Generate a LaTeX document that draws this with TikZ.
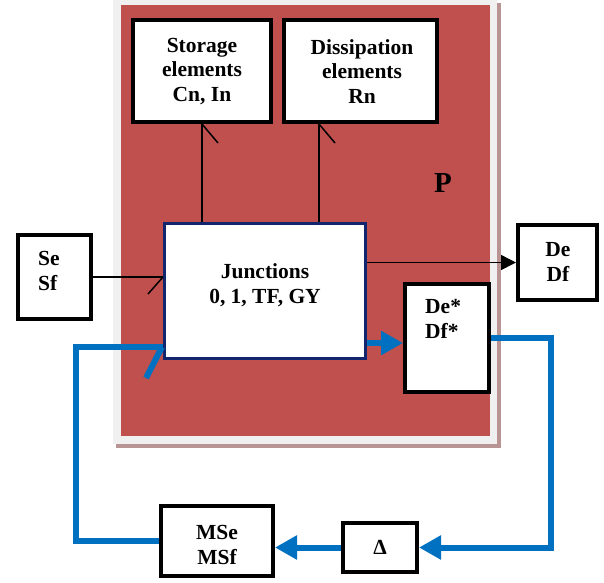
\documentclass[tikz,border=0pt]{standalone}
\usepackage{fontspec}
\setmainfont{Liberation Serif}
\usetikzlibrary{arrows.meta}
\definecolor{redbg}{HTML}{C0504D}
\definecolor{greybg}{HTML}{F0F0F0}
\definecolor{shadowc}{HTML}{B99494}
\definecolor{navyc}{RGB}{18,38,110}
\definecolor{bluec}{HTML}{0070C0}
\tikzset{
  box/.style={draw=black,line width=4pt,fill=white,inner sep=0pt},
  jbox/.style={draw=navyc,line width=3pt,fill=white,inner sep=0pt},
  txt/.style={font=\fontsize{21.5pt}{24.5pt}\selectfont\bfseries,inner sep=0pt},
  thin/.style={draw=black,line width=1.5pt},
  fb/.style={draw=bluec,line width=6pt,line join=miter},
  bluetip/.style={-{Triangle[length=22pt,width=23pt]}},
}
\begin{document}
\begin{tikzpicture}[x=1pt,y=-1pt]
\useasboundingbox (0,0) rectangle (604,582);
% frame P
\fill[shadowc] (116,3) rectangle (501,448);
\fill[greybg] (113,0) rectangle (497,444);
\fill[redbg] (121,5) rectangle (490,436);
\node[font=\fontsize{29pt}{32pt}\selectfont\bfseries,inner sep=0pt] (P) at (443,183) {P};
% boxes
\node[box,minimum width=138pt,minimum height=102pt] (st) at (202,71) {};
\node[box,minimum width=153pt,minimum height=102pt] (di) at (360.5,71) {};
\node[jbox,minimum width=201pt,minimum height=135pt] (ju) at (265,291) {};
\node[box,minimum width=73pt,minimum height=84pt] (se) at (54.5,277) {};
\node[box,minimum width=79pt,minimum height=75pt] (de) at (557.5,262.5) {};
\node[box,minimum width=84pt,minimum height=108pt] (ds) at (447,338) {};
\node[box,minimum width=112pt,minimum height=70pt] (ms) at (217,541) {};
\node[box,minimum width=74pt,minimum height=49pt] (dl) at (380,547.5) {};
% texts
\node[txt,align=center] (tst) at (202,71.5) {Storage\\elements\\Cn, In};
\node[txt,align=center] (tdi) at (362,71.5) {Dissipation\\elements\\Rn};
\node[txt,align=center] (tju) at (265,285) {Junctions\\0, 1, TF, GY};
\node[txt,align=left,anchor=west] (tse) at (38,271) {Se\\Sf};
\node[txt,align=center] (tde) at (558,262) {De\\Df};
\node[txt,align=left,anchor=west] (tds) at (425,319) {De*\\Df*};
\node[txt,align=center] (tms) at (217,545) {MSe\\MSf};
\node[txt] (tdl) at (380,547) {Δ};
% bonds to storage / dissipation
\coordinate (sb) at (st.south);
\coordinate (db) at ([xshift=-41.5pt]di.south);
\draw[thin] (sb |- ju.north) -- (sb);
\draw[thin] (sb) -- ++(16,19);
\draw[thin] (db |- ju.north) -- (db);
\draw[thin] (db) -- ++(16,19);
% sources
\draw[thin] (se.east) -- (se.east -| ju.west);
\draw[thin] (se.east -| ju.west) -- ++(-15,17);
% output
\draw[thin,-{Triangle[length=15pt,width=15pt]}] (de.west -| ju.east) -- (de.west);
% feedback loop
\coordinate (jo) at ([yshift=-52pt]ju.east);
\draw[fb,bluetip] (jo) -- (jo -| ds.west);
\draw[fb,bluetip] (ds.east) -- ++(60,0) |- (dl.east);
\draw[fb,bluetip] (dl.west) -- (dl.west -| ms.east);
\coordinate (jin) at ([yshift=-56pt]ju.west);
\coordinate (lc) at (76,347);
\draw[fb] (ms.west) -| (lc) -- (jin);
\draw[fb] ([xshift=-1pt]jin) -- ++(-16,31);
\end{tikzpicture}
\end{document}
